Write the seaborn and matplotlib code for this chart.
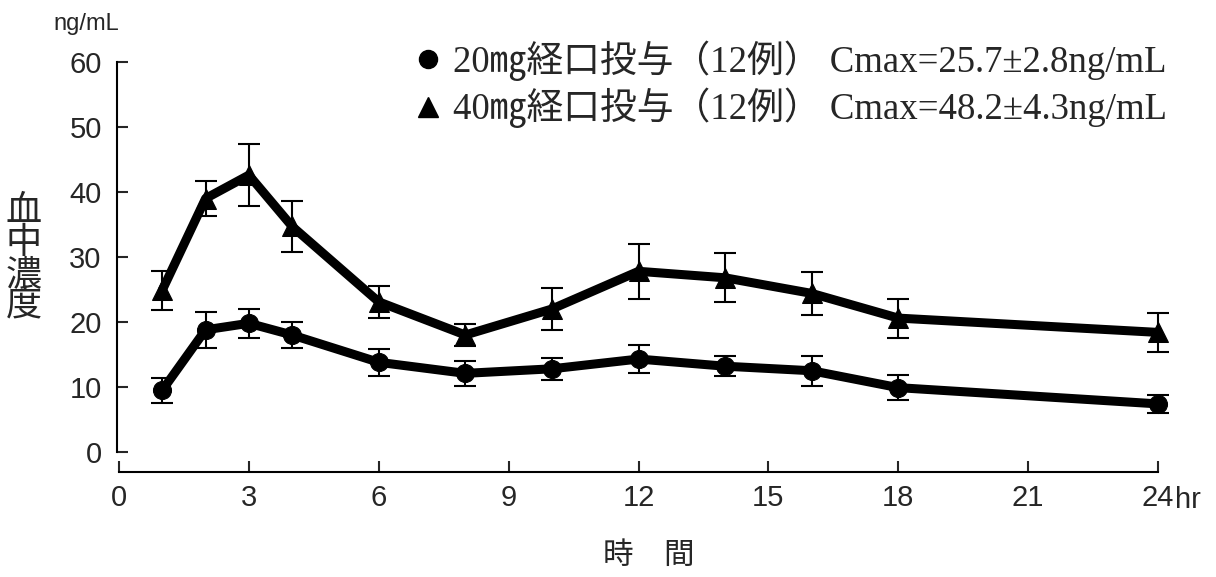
import matplotlib
matplotlib.use("Agg")
import matplotlib.pyplot as plt
from matplotlib.lines import Line2D
from matplotlib.font_manager import FontProperties
import seaborn as sns
import pandas as pd

# Sampling times (hr) and plasma concentrations (mean ± SD, ng/mL)
time_hr = [1, 2, 3, 4, 6, 8, 10, 12, 14, 16, 18, 24]
mean_20mg = [9.5, 18.8, 19.8, 18.0, 13.8, 12.1, 12.8, 14.3, 13.2, 12.5, 9.9, 7.4]
sd_20mg = [1.9, 2.8, 2.2, 2.0, 2.1, 1.95, 1.65, 2.1, 1.5, 2.3, 1.95, 1.35]
mean_40mg = [24.9, 39.0, 42.6, 34.7, 23.1, 18.0, 22.0, 27.8, 26.8, 24.4, 20.6, 18.4]
sd_40mg = [3.0, 2.7, 4.8, 3.9, 2.5, 1.75, 3.2, 4.2, 3.75, 3.35, 3.0, 3.0]

legend_labels = [
    "20㎎経口投与（12例） Cmax=25.7±2.8ng/mL",
    "40㎎経口投与（12例） Cmax=48.2±4.3ng/mL",
]
x_ticks = [0, 3, 6, 9, 12, 15, 18, 21, 24]
y_ticks = [0, 10, 20, 30, 40, 50, 60]

sns.set_style("ticks")
plt.rcParams["font.family"] = ["Liberation Sans", "Noto Sans CJK JP"]

df = pd.concat([
    pd.DataFrame({"time": time_hr, "conc": mean_20mg, "sd": sd_20mg, "dose": "20mg"}),
    pd.DataFrame({"time": time_hr, "conc": mean_40mg, "sd": sd_40mg, "dose": "40mg"}),
])

fig = plt.figure(figsize=(12.16, 5.77), dpi=100)
ax = fig.add_axes([117 / 1216, (577 - 452) / 577, 1054 / 1216, 390 / 577])

markers = {"20mg": ("o", 13), "40mg": ("^", 14)}
for dose, grp in df.groupby("dose"):
    ax.errorbar(grp["time"], grp["conc"], yerr=grp["sd"], fmt="none",
                ecolor="black", elinewidth=1.5, capsize=8, capthick=1.5,
                zorder=2, clip_on=False)
    m, ms = markers[dose]
    sns.lineplot(data=grp, x="time", y="conc", ax=ax, color="black",
                 linewidth=6.5, marker=m, markersize=ms,
                 markeredgecolor="black", zorder=3, clip_on=False,
                 legend=False)

ax.set_xlim(-0.046, 24.3)
ax.set_ylim(0, 60)
ax.set_xticks(x_ticks)
ax.set_xticklabels([str(t) for t in x_ticks])
ax.set_yticks(y_ticks)
ax.set_xlabel("")
ax.set_ylabel("")

for side in ("top", "right"):
    ax.spines[side].set_visible(False)
ax.spines["left"].set_bounds(0, 60)
ax.spines["bottom"].set_bounds(0, 24)
ax.spines["bottom"].set_position(("outward", 14.4))
for side in ("left", "bottom"):
    ax.spines[side].set_linewidth(1.5)
    ax.spines[side].set_color("black")

ax.tick_params(axis="y", direction="in", length=8, width=1.5, labelsize=21, pad=11)
ax.tick_params(axis="x", direction="in", length=8, width=1.5, labelsize=21, pad=9)

# unit suffix after the last time tick
ax.annotate("hr", xy=(24, 0), xycoords=ax.get_xaxis_transform(),
            xytext=(12, -24.5), textcoords="offset points",
            ha="left", va="top", fontsize=21)

fig.text(53 / 1216, 1 - 24 / 577, "ng/mL", ha="left", va="center", fontsize=17)
fig.text(24 / 1216, 1 - 259 / 577, "血\n中\n濃\n度", ha="center", va="center",
         fontsize=26, linespacing=0.85, family=["Noto Sans CJK JP"])
fig.text(649 / 1216, 1 - 555 / 577, "時　間", ha="center", va="center",
         fontsize=22, family=["Noto Sans CJK JP"])

handles = [
    Line2D([], [], marker="o", color="black", linestyle="none", markersize=13),
    Line2D([], [], marker="^", color="black", linestyle="none", markersize=14),
]
fp = FontProperties(family=["Liberation Serif", "Noto Sans CJK JP"], size=26.5)
fig.legend(handles, legend_labels, loc="upper left",
           bbox_to_anchor=(413 / 1216, 1 - 40 / 577), frameon=False, prop=fp,
           handlelength=0.8, handletextpad=0.3, borderpad=0, borderaxespad=0,
           labelspacing=0.2)

fig.savefig("out.png", dpi=100, facecolor="white")
